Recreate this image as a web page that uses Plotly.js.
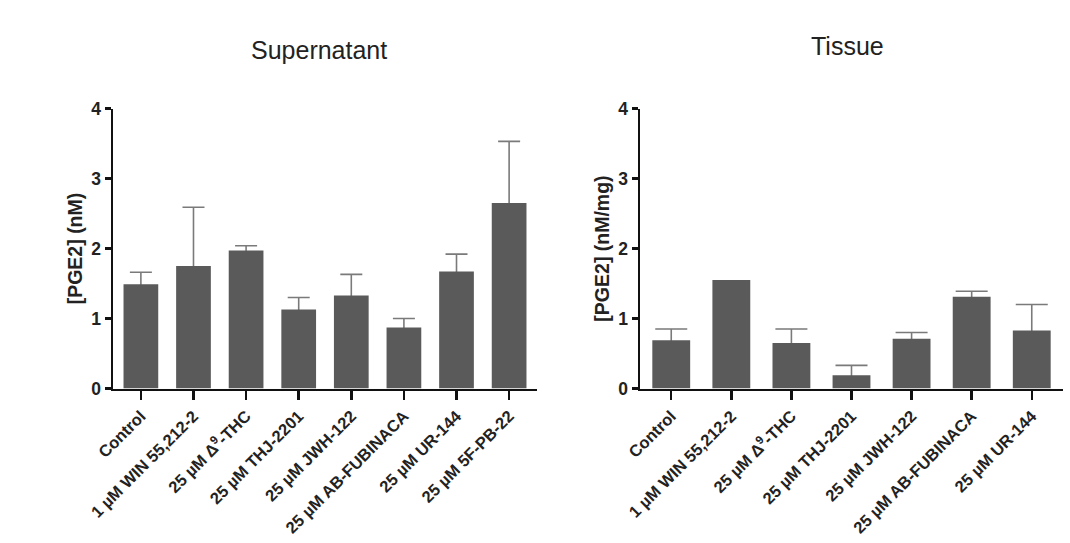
<!DOCTYPE html>
<html>
<head>
<meta charset="utf-8">
<script src="https://cdn.plot.ly/plotly-3.0.1.min.js"></script>
<style>html,body{margin:0;padding:0;background:#fff;}#chart{width:1070px;height:543px;}</style>
</head>
<body>
<div id="chart"></div>
<script>
// ---- Data ----
const supCategories = ["Control", "1 µM WIN 55,212-2", "25 µM Δ<sup>9</sup>-THC", "25 µM THJ-2201",
  "25 µM JWH-122", "25 µM AB-FUBINACA", "25 µM UR-144", "25 µM 5F-PB-22"];
const supMeans  = [1.49, 1.75, 1.97, 1.13, 1.33, 0.87, 1.67, 2.65];
const supErrors = [0.17, 0.84, 0.07, 0.17, 0.30, 0.13, 0.25, 0.88];

const tisCategories = ["Control", "1 µM WIN 55,212-2", "25 µM Δ<sup>9</sup>-THC", "25 µM THJ-2201",
  "25 µM JWH-122", "25 µM AB-FUBINACA", "25 µM UR-144"];
const tisMeans  = [0.69, 1.55, 0.65, 0.19, 0.71, 1.31, 0.83];
const tisErrors = [0.16, null, 0.20, 0.14, 0.09, 0.08, 0.37];

const yTickVals = [0, 1, 2, 3, 4];
const panelTitles = ["Supernatant", "Tissue"];
const yTitles = ["[PGE2] (nM)", "[PGE2] (nM/mg)"];

// ---- Styles ----
const BAR = "#5a5a5a";
const ERR = "#7a7a7a";
const AXC = "#111111";
const FONT = "Liberation Sans, Arial, sans-serif";

function errArr(e) { return e.map(v => (v === null ? NaN : v)); }

function panel(cats, means, errs, xa, ya, w, capw) {
  // error bars drawn first (behind the bars) so only the upper half shows
  const errTrace = {
    type: "bar", x: cats, y: means, xaxis: xa, yaxis: ya, width: w,
    marker: {color: "rgba(0,0,0,0)", line: {width: 0}},
    error_y: {type: "data", symmetric: true, array: errArr(errs),
      color: ERR, thickness: 1.6, width: capw},
    hoverinfo: "skip", showlegend: false
  };
  const barTrace = {
    type: "bar", x: cats, y: means, xaxis: xa, yaxis: ya, width: w,
    marker: {color: BAR, line: {width: 0}},
    showlegend: false
  };
  return [errTrace, barTrace];
}

const data = [
  ...panel(supCategories, supMeans, supErrors, "x", "y", 0.66, 11),
  ...panel(tisCategories, tisMeans, tisErrors, "x2", "y2", 0.63, 16)
];

const W = 1070, H = 543;
const yDom = [(H - 388.5) / H, (H - 108.5) / H];

function xAxis(domain, n, pad) {
  return {
    domain: domain, type: "category", range: [-pad, n - 1 + pad],
    showline: true, linecolor: AXC, linewidth: 2.5,
    ticks: "outside", ticklen: 9, tickwidth: 2.5, tickcolor: AXC,
    tickangle: -45, showgrid: false, zeroline: false, fixedrange: true,
    tickfont: {family: FONT, size: 16.5, weight: "bold", color: "#222"}
  };
}
function yAxis(title, anchor) {
  return {
    domain: yDom, range: [0, 4], tickmode: "array", tickvals: yTickVals,
    anchor: anchor,
    showline: true, linecolor: AXC, linewidth: 2.5,
    ticks: "outside", ticklen: 6, tickwidth: 2.5, tickcolor: AXC,
    showgrid: false, zeroline: false, fixedrange: true,
    tickfont: {family: FONT, size: 17.5, weight: "bold", color: "#222"},
    title: {text: title, standoff: 4, font: {family: FONT, size: 19.5, weight: "bold", color: "#222"}}
  };
}

const layout = {
  width: W, height: H,
  margin: {l: 0, r: 0, t: 0, b: 0},
  paper_bgcolor: "#ffffff", plot_bgcolor: "#ffffff",
  barmode: "overlay",
  showlegend: false,
  xaxis: Object.assign(xAxis([113 / W, 537 / W], supCategories.length, 0.53), {anchor: "y"}),
  yaxis: yAxis(yTitles[0], "x"),
  xaxis2: Object.assign(xAxis([640 / W, 1063 / W], tisCategories.length, 0.52), {anchor: "y2"}),
  yaxis2: yAxis(yTitles[1], "x2"),
  annotations: [
    {text: panelTitles[0], xref: "paper", yref: "paper", x: 319 / W, y: (H - 50) / H,
     xanchor: "center", yanchor: "middle", showarrow: false,
     font: {family: FONT, size: 25, color: "#222"}},
    {text: panelTitles[1], xref: "paper", yref: "paper", x: 847 / W, y: (H - 46) / H,
     xanchor: "center", yanchor: "middle", showarrow: false,
     font: {family: FONT, size: 25, color: "#222"}}
  ]
};

Plotly.newPlot("chart", data, layout, {displayModeBar: false, staticPlot: true});
</script>
</body>
</html>
